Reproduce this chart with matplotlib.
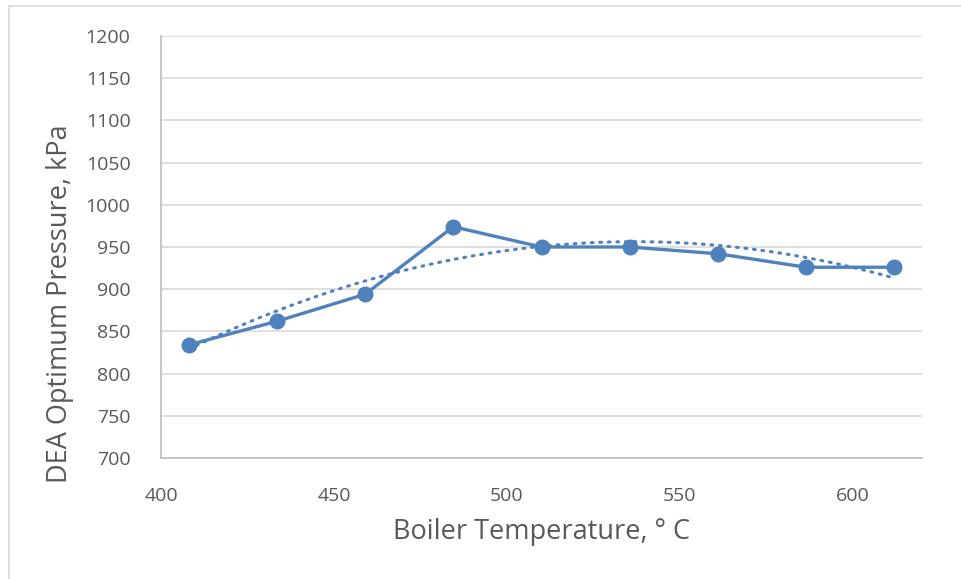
import matplotlib
matplotlib.use("Agg")
import matplotlib.pyplot as plt
from matplotlib.patches import Rectangle
import numpy as np

# Werte
temp = [408, 433.5, 459, 484.5, 510, 535.5, 561, 586.5, 612]
pressure = [834, 862, 894, 974, 950, 950, 942, 926, 926]
x_ticks = [400, 450, 500, 550, 600]
y_ticks = [700, 750, 800, 850, 900, 950, 1000, 1050, 1100, 1150, 1200]

blue = "#4F81BD"
grey_txt = "#595959"

plt.rcParams['font.family'] = ['Open Sans', 'DejaVu Sans']

fig = plt.figure(figsize=(9.62, 5.79), dpi=100)
W, H = 962, 579
ax = fig.add_axes([161 / W, 1 - 458 / H, (922 - 161) / W, (458 - 36) / H])

# Rahmen um das Diagramm
fig.patches.append(Rectangle((9 / W, -0.01), 1.0, 1 - 6 / H + 0.01,
                             transform=fig.transFigure, fill=False,
                             edgecolor="#D9D9D9", lw=1.2))

# Polynom-Trendlinie (Ordnung 2), wie in Excel
coef = np.polyfit(temp, pressure, 2)
xt = np.linspace(min(temp), max(temp), 200)
ax.plot(xt, np.polyval(coef, xt), color=blue, lw=2.2,
        linestyle=(0, (0.6, 2.2)), dash_capstyle="round", zorder=3)

ax.plot(temp, pressure, color=blue, lw=2.4, marker="o", markersize=10.5,
        zorder=4)

ax.set_xlim(400, 620)
ax.set_ylim(700, 1200)
ax.set_xticks(x_ticks)
ax.set_yticks(y_ticks)
ax.tick_params(axis="both", length=0, labelsize=14, labelcolor=grey_txt)
ax.tick_params(axis="y", pad=22)
ax.tick_params(axis="x", pad=21)

ax.grid(axis="y", color="#D9D9D9", lw=1.2)
ax.set_axisbelow(True)
for s in ["top", "right"]:
    ax.spines[s].set_visible(False)
for s in ["left", "bottom"]:
    ax.spines[s].set_color("#BFBFBF")
    ax.spines[s].set_linewidth(1.2)

fig.text(541.5 / W, 1 - 532 / H, "Boiler Temperature, ° C", ha="center",
         va="center", fontsize=19.5, color=grey_txt)
fig.text(60 / W, 1 - 304 / H, "DEA Optimum Pressure, kPa", ha="center",
         va="center", rotation=90, fontsize=19.5, color=grey_txt)

fig.savefig("out.png", dpi=100)
